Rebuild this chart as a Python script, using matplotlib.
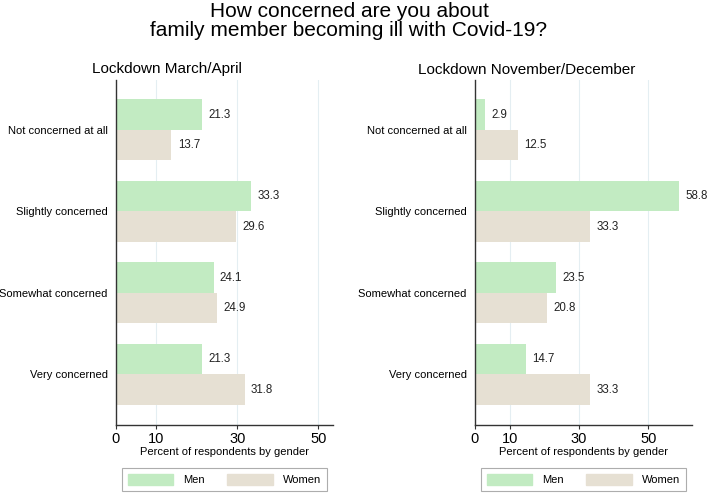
import numpy as np
import matplotlib
matplotlib.use("Agg")
import matplotlib.pyplot as plt
from matplotlib.patches import Patch

plt.rcParams["font.family"] = ["Liberation Sans", "DejaVu Sans"]

categories = ["Not concerned at all", "Slightly concerned", "Somewhat concerned", "Very concerned"]
panel_titles = ["Lockdown March/April", "Lockdown November/December"]
men = [[21.3, 33.3, 24.1, 21.3], [2.9, 58.8, 23.5, 14.7]]
women = [[13.7, 29.6, 24.9, 31.8], [12.5, 33.3, 20.8, 33.3]]
xmax = [53.6, 62.6]

men_color = "#c2ebc2"
women_color = "#e6e0d3"
W, H = 709, 496

fig = plt.figure(figsize=(7.09, 4.96), dpi=100)
fig.text(349 / W, 1 - 17 / H, "How concerned are you about", ha="center", va="baseline", fontsize=15)
fig.text(349 / W, 1 - 35.5 / H, "family member becoming ill with Covid-19?", ha="center", va="baseline", fontsize=15)

lefts = [116 / W, 475 / W]
title_x = [167 / W, 527 / W]
y = np.arange(len(categories))
h = 0.374

for i in range(2):
    ax = fig.add_axes([lefts[i], 1 - 425 / H, 217 / W, 345 / H])
    b1 = ax.barh(y - h / 2, men[i], height=h, color=men_color, zorder=2)
    b2 = ax.barh(y + h / 2, women[i], height=h, color=women_color, zorder=2)
    for bars in (b1, b2):
        for r in bars:
            ax.annotate(f"{r.get_width():.1f}", (r.get_width(), r.get_y() + r.get_height() / 2),
                        xytext=(4.5, 0), textcoords="offset points",
                        va="center", ha="left", fontsize=8.3, color="#222222")
    ax.set_ylim(3.62, -0.613)
    ax.set_xlim(0, xmax[i])
    ax.set_xticks([0, 10, 30, 50])
    ax.tick_params(axis="x", labelsize=10.5, length=3, color="#333333", pad=2)
    ax.set_yticks(y)
    ax.set_yticklabels(categories, fontsize=8)
    ax.tick_params(axis="y", length=0, pad=6)
    for x in [10, 30, 50]:
        ax.axvline(x, color="#e4eef2", lw=0.8, zorder=0)
    for s in ["top", "right"]:
        ax.spines[s].set_visible(False)
    for s in ["left", "bottom"]:
        ax.spines[s].set_color("#333333")
        ax.spines[s].set_linewidth(1)
    fig.text(title_x[i], 1 - 73.5 / H, panel_titles[i], ha="center", va="baseline", fontsize=11)
    ax.set_xlabel("Percent of respondents by gender", fontsize=8, labelpad=1)
    handles = [Patch(color=men_color, label="Men"), Patch(color=women_color, label="Women")]
    leg = ax.legend(handles=handles, loc="upper center", bbox_to_anchor=(0.5, -0.125),
                    borderaxespad=0, ncol=2, fontsize=8, frameon=True, fancybox=False,
                    handlelength=4.1, handleheight=1.17, columnspacing=2.0, handletextpad=0.9,
                    borderpad=0.5)
    leg.get_frame().set_edgecolor("#999999")
    leg.get_frame().set_linewidth(0.8)

fig.savefig("out.png", dpi=100)
